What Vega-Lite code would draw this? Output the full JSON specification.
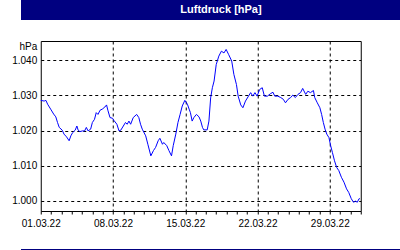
{
  "$schema": "https://vega.github.io/schema/vega-lite/v6.json",
  "background": "white",
  "padding": 0,
  "spacing": 20,
  "center": true,
  "config": {
    "font": "Liberation Sans",
    "axis": {"labelFont": "Liberation Sans", "titleFont": "Liberation Sans", "labelFontSize": 10, "titleFontSize": 10, "labelColor": "black", "titleColor": "black"}
  },
  "vconcat": [
    {
      "width": 400,
      "height": 20,
      "data": {"values": [{"title": "Luftdruck [hPa]"}]},
      "mark": {"type": "text", "color": "white", "fontWeight": "bold", "fontSize": 11, "font": "Liberation Sans", "baseline": "middle", "align": "center"},
      "encoding": {"text": {"field": "title", "type": "nominal"}},
      "view": {"fill": "#000080", "stroke": null}
    },
    {
      "width": 320,
      "height": 170,
      "encoding": {
        "x": {
          "field": "t", "type": "temporal",
          "scale": {"domain": [{"year": 2022, "month": 3, "date": 1}, {"year": 2022, "month": 4, "date": 1}], "nice": false},
          "axis": {
            "title": null,
            "values": [
              {"year": 2022, "month": 3, "date": 1}, {"year": 2022, "month": 3, "date": 2}, {"year": 2022, "month": 3, "date": 3}, {"year": 2022, "month": 3, "date": 4},
              {"year": 2022, "month": 3, "date": 5}, {"year": 2022, "month": 3, "date": 6}, {"year": 2022, "month": 3, "date": 7}, {"year": 2022, "month": 3, "date": 8},
              {"year": 2022, "month": 3, "date": 9}, {"year": 2022, "month": 3, "date": 10}, {"year": 2022, "month": 3, "date": 11}, {"year": 2022, "month": 3, "date": 12},
              {"year": 2022, "month": 3, "date": 13}, {"year": 2022, "month": 3, "date": 14}, {"year": 2022, "month": 3, "date": 15}, {"year": 2022, "month": 3, "date": 16},
              {"year": 2022, "month": 3, "date": 17}, {"year": 2022, "month": 3, "date": 18}, {"year": 2022, "month": 3, "date": 19}, {"year": 2022, "month": 3, "date": 20},
              {"year": 2022, "month": 3, "date": 21}, {"year": 2022, "month": 3, "date": 22}, {"year": 2022, "month": 3, "date": 23}, {"year": 2022, "month": 3, "date": 24},
              {"year": 2022, "month": 3, "date": 25}, {"year": 2022, "month": 3, "date": 26}, {"year": 2022, "month": 3, "date": 27}, {"year": 2022, "month": 3, "date": 28},
              {"year": 2022, "month": 3, "date": 29}, {"year": 2022, "month": 3, "date": 30}, {"year": 2022, "month": 3, "date": 31}, {"year": 2022, "month": 4, "date": 1}
            ],
            "labelExpr": "month(datum.value) == 2 && date(datum.value) % 7 == 1 ? timeFormat(datum.value, '%d.%m.%y') : ''",
            "labelAngle": 0,
            "labelPadding": 4,
            "labelOverlap": false,
            "labelFlush": false,
            "tickSize": 3,
            "tickColor": "black",
            "domain": false,
            "grid": true,
            "gridColor": "black",
            "gridDash": [3, 3],
            "gridOpacity": {"condition": {"test": "month(datum.value) == 2 && date(datum.value) % 7 == 1 && date(datum.value) > 1", "value": 1}, "value": 0}
          }
        }
      },
      "layer": [
        {
          "data": {"values": [
            {"t": "2022-03-01T00:00", "p": 1028.6},
            {"t": "2022-03-01T08:00", "p": 1028.4},
            {"t": "2022-03-01T12:00", "p": 1028.6},
            {"t": "2022-03-01T16:00", "p": 1027.5},
            {"t": "2022-03-01T23:00", "p": 1026.1},
            {"t": "2022-03-02T06:00", "p": 1024.7},
            {"t": "2022-03-02T11:00", "p": 1023.9},
            {"t": "2022-03-02T15:00", "p": 1022.3},
            {"t": "2022-03-02T19:00", "p": 1020.9},
            {"t": "2022-03-03T02:00", "p": 1020.1},
            {"t": "2022-03-03T06:00", "p": 1019.0},
            {"t": "2022-03-03T12:00", "p": 1018.2},
            {"t": "2022-03-03T18:00", "p": 1017.1},
            {"t": "2022-03-03T22:00", "p": 1018.5},
            {"t": "2022-03-04T02:00", "p": 1019.4},
            {"t": "2022-03-04T08:00", "p": 1020.1},
            {"t": "2022-03-04T12:00", "p": 1021.3},
            {"t": "2022-03-04T15:00", "p": 1020.1},
            {"t": "2022-03-04T19:00", "p": 1019.7},
            {"t": "2022-03-05T01:00", "p": 1019.9},
            {"t": "2022-03-05T06:00", "p": 1019.9},
            {"t": "2022-03-05T10:00", "p": 1020.9},
            {"t": "2022-03-05T14:00", "p": 1019.9},
            {"t": "2022-03-05T20:00", "p": 1020.4},
            {"t": "2022-03-06T00:00", "p": 1022.3},
            {"t": "2022-03-06T05:00", "p": 1023.2},
            {"t": "2022-03-06T09:00", "p": 1025.1},
            {"t": "2022-03-06T13:00", "p": 1024.6},
            {"t": "2022-03-06T18:00", "p": 1025.8},
            {"t": "2022-03-06T23:00", "p": 1026.1},
            {"t": "2022-03-07T05:00", "p": 1026.7},
            {"t": "2022-03-07T09:00", "p": 1027.3},
            {"t": "2022-03-07T12:00", "p": 1025.8},
            {"t": "2022-03-07T17:00", "p": 1023.7},
            {"t": "2022-03-07T23:00", "p": 1023.5},
            {"t": "2022-03-08T02:00", "p": 1022.9},
            {"t": "2022-03-08T09:00", "p": 1021.8},
            {"t": "2022-03-08T14:00", "p": 1019.9},
            {"t": "2022-03-08T18:00", "p": 1020.1},
            {"t": "2022-03-09T00:00", "p": 1021.3},
            {"t": "2022-03-09T05:00", "p": 1022.3},
            {"t": "2022-03-09T09:00", "p": 1021.8},
            {"t": "2022-03-09T13:00", "p": 1022.7},
            {"t": "2022-03-09T17:00", "p": 1021.8},
            {"t": "2022-03-09T23:00", "p": 1023.7},
            {"t": "2022-03-10T07:00", "p": 1024.6},
            {"t": "2022-03-10T12:00", "p": 1023.7},
            {"t": "2022-03-10T16:00", "p": 1021.8},
            {"t": "2022-03-10T20:00", "p": 1020.4},
            {"t": "2022-03-11T04:00", "p": 1018.5},
            {"t": "2022-03-11T09:00", "p": 1016.1},
            {"t": "2022-03-11T16:00", "p": 1012.8},
            {"t": "2022-03-11T22:00", "p": 1014.3},
            {"t": "2022-03-12T03:00", "p": 1015.2},
            {"t": "2022-03-12T09:00", "p": 1017.1},
            {"t": "2022-03-12T13:00", "p": 1017.8},
            {"t": "2022-03-12T19:00", "p": 1016.1},
            {"t": "2022-03-12T22:00", "p": 1016.6},
            {"t": "2022-03-13T05:00", "p": 1015.7},
            {"t": "2022-03-13T10:00", "p": 1014.3},
            {"t": "2022-03-13T16:00", "p": 1012.8},
            {"t": "2022-03-13T20:00", "p": 1015.7},
            {"t": "2022-03-14T02:00", "p": 1019.0},
            {"t": "2022-03-14T07:00", "p": 1022.3},
            {"t": "2022-03-14T12:00", "p": 1024.6},
            {"t": "2022-03-14T17:00", "p": 1027.0},
            {"t": "2022-03-14T23:00", "p": 1028.6},
            {"t": "2022-03-15T05:00", "p": 1027.5},
            {"t": "2022-03-15T09:00", "p": 1026.1},
            {"t": "2022-03-15T12:00", "p": 1025.1},
            {"t": "2022-03-15T16:00", "p": 1022.7},
            {"t": "2022-03-15T20:00", "p": 1023.7},
            {"t": "2022-03-16T02:00", "p": 1024.6},
            {"t": "2022-03-16T08:00", "p": 1023.9},
            {"t": "2022-03-16T12:00", "p": 1022.7},
            {"t": "2022-03-16T16:00", "p": 1020.9},
            {"t": "2022-03-16T19:00", "p": 1020.2},
            {"t": "2022-03-17T03:00", "p": 1020.2},
            {"t": "2022-03-17T07:00", "p": 1022.7},
            {"t": "2022-03-17T11:00", "p": 1029.3},
            {"t": "2022-03-17T15:00", "p": 1032.2},
            {"t": "2022-03-17T19:00", "p": 1034.1},
            {"t": "2022-03-18T00:00", "p": 1038.8},
            {"t": "2022-03-18T06:00", "p": 1041.2},
            {"t": "2022-03-18T12:00", "p": 1042.6},
            {"t": "2022-03-18T18:00", "p": 1042.1},
            {"t": "2022-03-18T23:00", "p": 1043.1},
            {"t": "2022-03-19T05:00", "p": 1041.6},
            {"t": "2022-03-19T12:00", "p": 1039.8},
            {"t": "2022-03-19T17:00", "p": 1036.0},
            {"t": "2022-03-19T23:00", "p": 1033.1},
            {"t": "2022-03-20T03:00", "p": 1029.8},
            {"t": "2022-03-20T09:00", "p": 1027.3},
            {"t": "2022-03-20T14:00", "p": 1026.5},
            {"t": "2022-03-20T20:00", "p": 1028.4},
            {"t": "2022-03-21T03:00", "p": 1029.8},
            {"t": "2022-03-21T08:00", "p": 1030.8},
            {"t": "2022-03-21T13:00", "p": 1029.8},
            {"t": "2022-03-21T18:00", "p": 1030.8},
            {"t": "2022-03-21T23:00", "p": 1029.8},
            {"t": "2022-03-22T05:00", "p": 1031.7},
            {"t": "2022-03-22T11:00", "p": 1032.2},
            {"t": "2022-03-22T16:00", "p": 1029.8},
            {"t": "2022-03-22T23:00", "p": 1029.8},
            {"t": "2022-03-23T06:00", "p": 1030.5},
            {"t": "2022-03-23T12:00", "p": 1030.9},
            {"t": "2022-03-23T16:00", "p": 1029.8},
            {"t": "2022-03-23T23:00", "p": 1029.8},
            {"t": "2022-03-24T06:00", "p": 1029.4},
            {"t": "2022-03-24T12:00", "p": 1028.9},
            {"t": "2022-03-24T17:00", "p": 1027.9},
            {"t": "2022-03-24T23:00", "p": 1028.9},
            {"t": "2022-03-25T05:00", "p": 1029.4},
            {"t": "2022-03-25T10:00", "p": 1030.1},
            {"t": "2022-03-25T16:00", "p": 1029.4},
            {"t": "2022-03-25T22:00", "p": 1030.3},
            {"t": "2022-03-26T04:00", "p": 1030.8},
            {"t": "2022-03-26T09:00", "p": 1032.0},
            {"t": "2022-03-26T16:00", "p": 1030.3},
            {"t": "2022-03-26T21:00", "p": 1031.2},
            {"t": "2022-03-27T03:00", "p": 1030.8},
            {"t": "2022-03-27T10:00", "p": 1031.4},
            {"t": "2022-03-27T13:00", "p": 1029.4},
            {"t": "2022-03-27T19:00", "p": 1027.9},
            {"t": "2022-03-28T01:00", "p": 1026.5},
            {"t": "2022-03-28T05:00", "p": 1024.6},
            {"t": "2022-03-28T09:00", "p": 1022.3},
            {"t": "2022-03-28T13:00", "p": 1020.4},
            {"t": "2022-03-28T17:00", "p": 1019.0},
            {"t": "2022-03-28T22:00", "p": 1018.0},
            {"t": "2022-03-29T02:00", "p": 1015.7},
            {"t": "2022-03-29T06:00", "p": 1013.8},
            {"t": "2022-03-29T11:00", "p": 1011.4},
            {"t": "2022-03-29T16:00", "p": 1009.5},
            {"t": "2022-03-29T21:00", "p": 1008.6},
            {"t": "2022-03-30T03:00", "p": 1006.7},
            {"t": "2022-03-30T09:00", "p": 1005.3},
            {"t": "2022-03-30T15:00", "p": 1003.4},
            {"t": "2022-03-30T20:00", "p": 1002.4},
            {"t": "2022-03-31T02:00", "p": 1000.6},
            {"t": "2022-03-31T07:00", "p": 999.6},
            {"t": "2022-03-31T12:00", "p": 999.9},
            {"t": "2022-03-31T16:00", "p": 999.6},
            {"t": "2022-03-31T20:00", "p": 1000.6},
            {"t": "2022-03-31T22:00", "p": 1000.6}
          ]},
          "mark": {"type": "line", "color": "#0000FF", "strokeWidth": 1},
          "encoding": {
            "y": {
              "field": "p", "type": "quantitative",
              "scale": {"domain": [997.1, 1045.5], "nice": false, "zero": false},
              "axis": {
                "title": "hPa",
                "titleAngle": 0,
                "titleAlign": "right",
                "titleBaseline": "middle",
                "titleX": -4,
                "titleY": 5,
                "titleFontWeight": "normal",
                "values": [1000, 1010, 1020, 1030, 1040],
                "labelExpr": "replace(format(datum.value, ','), ',', '.')",
                "ticks": false,
                "domain": false,
                "labelPadding": 4,
                "grid": true,
                "gridColor": "black",
                "gridDash": [3, 3],
                "minExtent": 40,
                "maxExtent": 40
              }
            }
          }
        },
        {
          "data": {"values": []},
          "mark": {"type": "line"},
          "encoding": {
            "y": {
              "field": "p", "type": "quantitative",
              "axis": {"orient": "right", "title": null, "labels": false, "ticks": false, "domain": false, "grid": false, "minExtent": 40, "maxExtent": 40}
            }
          }
        }
      ],
      "resolve": {"axis": {"y": "independent"}},
      "view": {"stroke": "black", "strokeWidth": 1, "fill": "white"}
    },
    {
      "width": 400,
      "height": 2,
      "data": {"values": []},
      "mark": {"type": "text"},
      "encoding": {},
      "view": {"fill": "#000080", "stroke": null}
    }
  ]
}
